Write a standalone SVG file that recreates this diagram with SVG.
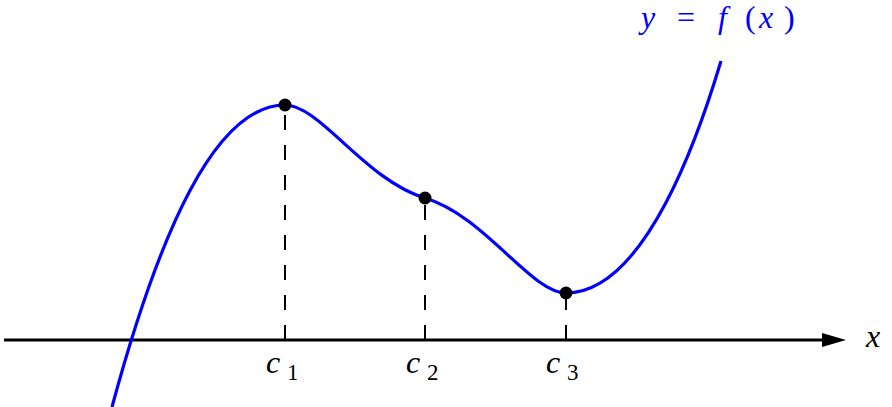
<svg xmlns="http://www.w3.org/2000/svg" width="892" height="407" viewBox="0 0 892 407">
<style>
.math{font-family:'Liberation Serif','DejaVu Serif',serif;font-style:italic;font-size:32px;}
.up{font-family:'Liberation Serif','DejaVu Serif',serif;font-style:normal;font-size:32px;}
.sub{font-family:'Liberation Serif','DejaVu Serif',serif;font-style:normal;font-size:23px;}
.guide{stroke:#000;stroke-width:2;stroke-dasharray:15 15;fill:none;}
.dot{fill:#000;}
</style>
<rect width="892" height="407" fill="#fff"/>
<g id="connectors">
<line id="x-axis" x1="4" y1="340" x2="823" y2="340" stroke="#000" stroke-width="3"/>
<path d="M822,333 L846,340 L822,347 Z" fill="#000"/>
<line class="guide" x1="285" y1="340" x2="285" y2="105"/>
<line class="guide" x1="425" y1="340" x2="425" y2="198"/>
<line class="guide" x1="566" y1="340" x2="566" y2="293"/>
</g>
<g id="curve">
<path d="M112,407 C159,233 215,105 285,105 C320,105 365,180 425,198 C485,216 531,293 566,293 C646,293 700,131 721,61" fill="none" stroke="#0000ff" stroke-width="3.2"/>
</g>
<g id="node-c1"><circle class="dot" cx="285" cy="105" r="6.5"/>
<text class="math" x="266" y="373">c</text><text class="sub" x="287" y="380">1</text></g>
<g id="node-c2"><circle class="dot" cx="425" cy="198" r="6.5"/>
<text class="math" x="406" y="373">c</text><text class="sub" x="427" y="380">2</text></g>
<g id="node-c3"><circle class="dot" cx="566" cy="293" r="6.5"/>
<text class="math" x="546" y="373">c</text><text class="sub" x="567" y="380">3</text></g>
<g id="label-x"><text class="math" x="866" y="347">x</text></g>
<g id="label-f" fill="#0000ff">
<text class="math" x="641" y="28">y</text>
<text class="up" x="677" y="28">=</text>
<text class="math" x="718" y="28">f</text>
<text class="up" x="745" y="28">(</text>
<text class="math" x="759" y="28">x</text>
<text class="up" x="784" y="28">)</text>
</g>
</svg>
